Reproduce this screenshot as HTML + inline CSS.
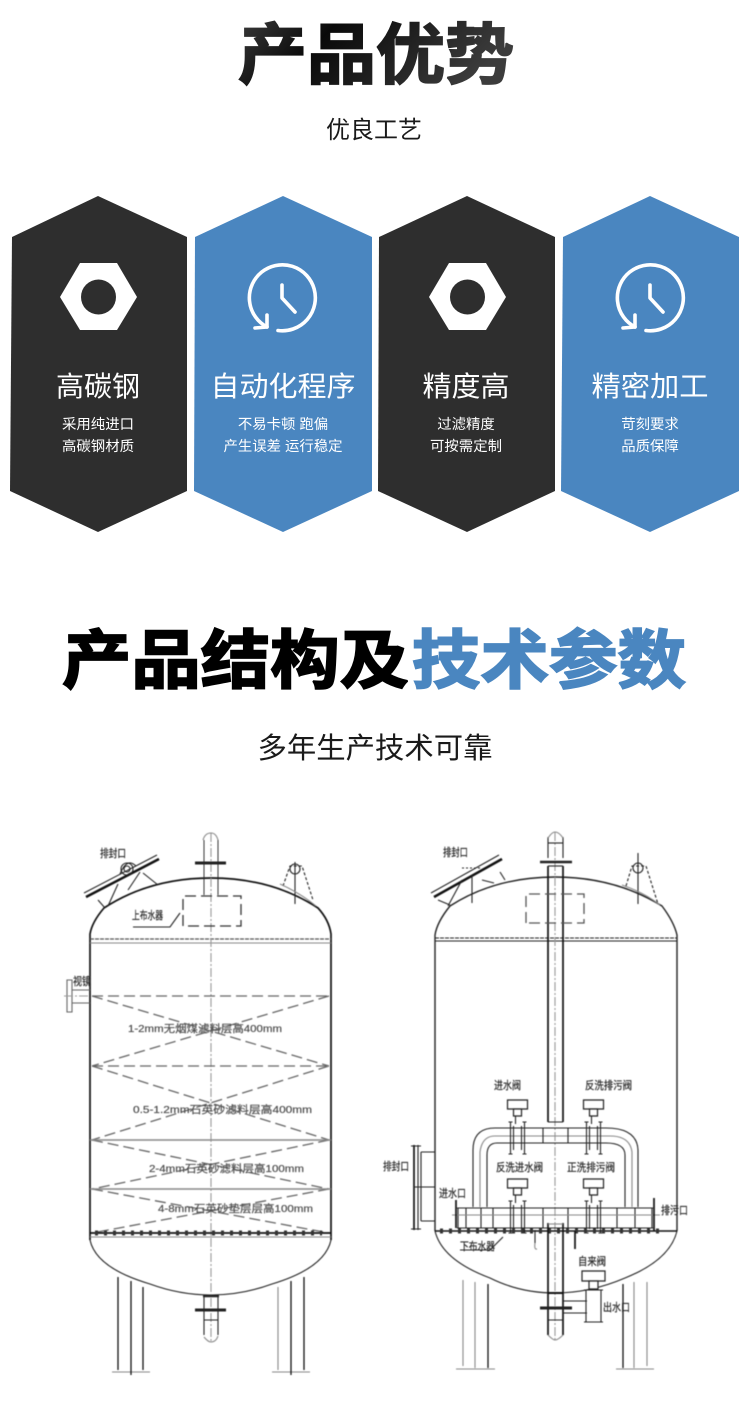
<!DOCTYPE html>
<html lang="zh">
<head>
<meta charset="utf-8">
<title>产品优势</title>
<style>
html,body{margin:0;padding:0;background:#fff;width:750px;height:1428px;overflow:hidden}
svg{display:block}
text{font-family:"Liberation Sans","Noto Sans CJK SC",sans-serif}
.t{font-weight:700;stroke-width:1.8px;stroke-linejoin:miter;stroke-miterlimit:2}
.sub{font-size:24px;fill:#1a1a1a;text-anchor:middle}
.h{font-size:28px;fill:#fff;text-anchor:middle}
.s{font-size:14.400px;fill:#fff;text-anchor:middle}
.l{font-size:10.500px;fill:#444;stroke:#666;stroke-width:.25px}
.lb{font-size:11px;fill:#222;stroke:#333;stroke-width:.25px}
.d{fill:none;stroke:#222;stroke-width:1.1}
.b{fill:none;stroke:#111;stroke-width:1.7}
.g{fill:none;stroke:#888;stroke-width:1.1}
.da{fill:none;stroke:#666;stroke-width:1.3;stroke-dasharray:11 5}
.c{fill:none;stroke:#999;stroke-width:1.1;stroke-dasharray:9 2 2 2}
.w{fill:#fff;stroke:#222;stroke-width:1.2}
.diagram{filter:blur(.45px)}
</style>
</head>
<body>
<svg width="750" height="1428" viewBox="0 0 750 1428" xmlns="http://www.w3.org/2000/svg">
<defs>
<linearGradient id="tg" x1="0" y1="0" x2="1" y2="0.25">
<stop offset="0" stop-color="#3a3a3a"/><stop offset=".35" stop-color="#0a0a0a"/><stop offset=".6" stop-color="#1c1c1c"/><stop offset="1" stop-color="#3c3c3c"/>
</linearGradient>
<g id="clock" fill="none" stroke="#fff" stroke-width="3.6" stroke-linecap="round" stroke-linejoin="round">
<path d="M-4 32.500A33 33 0 1 0 -15 29"/>
<path d="M-27 30L-15 29L-15 17"/>
<path d="M0 -13V0L13 14"/>
</g>
<g id="valve">
<path class="w" d="M-10 -6H10V3H-10Z"/><path class="w" d="M-4 3H4V10H-4Z"/><path class="d" d="M-2 10V18"/>
<path class="d" d="M-7 16V48M7 16V48M-5 16H-9M-5 48H-9M5 16H9M5 48H9M-4 20V44M4 20V44"/>
</g>
</defs>

<rect width="750" height="1428" fill="#fff"/>

<text class="t" style="font-size:66px" x="238" y="78" textLength="276" lengthAdjust="spacingAndGlyphs" fill="url(#tg)" stroke="url(#tg)">产品优势</text>
<text class="sub" x="374" y="138">优良工艺</text>

<polygon points="98,196 187,237 187,491 98,532 10,491 12,237" fill="#2e2e2e"/>
<polygon points="283,196 372,237 372,491 283,532 194,491 195,237" fill="#4a86c0"/>
<polygon points="467,196 555,237 555,491 467,532 378,491 379,237" fill="#2e2e2e"/>
<polygon points="650,196 739,237 739,491 650,532 561,491 563,237" fill="#4a86c0"/>

<polygon points="80,263 117,263 137,297 117,330 80,330 60,297" fill="#fff"/>
<circle cx="98.500" cy="297" r="17.500" fill="#2e2e2e"/>
<polygon points="449,263 486,263 506,297 486,330 449,330 429,297" fill="#fff"/>
<circle cx="467.500" cy="297" r="17.500" fill="#2e2e2e"/>
<use href="#clock" x="282" y="298"/>
<use href="#clock" x="650" y="298"/>

<text class="h" x="98" y="396" textLength="84" lengthAdjust="spacingAndGlyphs">高碳钢</text>
<text class="h" x="283" y="396" textLength="145" lengthAdjust="spacingAndGlyphs">自动化程序</text>
<text class="h" x="466" y="396" textLength="87" lengthAdjust="spacingAndGlyphs">精度高</text>
<text class="h" x="650" y="396" textLength="117" lengthAdjust="spacingAndGlyphs">精密加工</text>

<text class="s" x="98" y="429">采用纯进口</text>
<text class="s" x="98" y="451">高碳钢材质</text>
<text class="s" x="283" y="429">不易卡顿 跑偏</text>
<text class="s" x="283" y="451">产生误差 运行稳定</text>
<text class="s" x="466" y="429">过滤精度</text>
<text class="s" x="466" y="451">可按需定制</text>
<text class="s" x="650" y="429">苛刻要求</text>
<text class="s" x="650" y="451">品质保障</text>

<text class="t" style="font-size:64px" x="62" y="683" textLength="347" lengthAdjust="spacingAndGlyphs" fill="#000" stroke="#000">产品结构及</text>
<text class="t" style="font-size:64px" x="412" y="683" textLength="274" lengthAdjust="spacingAndGlyphs" fill="#4a86c0" stroke="#4a86c0">技术参数</text>
<text class="sub" x="375" y="758" style="font-size:29px" textLength="235" lengthAdjust="spacingAndGlyphs">多年生产技术可靠</text>

<!-- LEFT TANK -->
<g class="diagram">
<path class="b" d="M90 1240V934Q92 922 104 908Q150 878 211 878Q272 878 318 908Q329 920 331 934V1240"/>
<path class="d" d="M90 1240Q96 1268 150 1284Q180 1295 211 1295Q242 1295 272 1284Q325 1268 331 1240"/>
<path class="da" style="stroke-dasharray:4 1;stroke:#555" d="M90 939H331"/>
<path class="g" d="M90 943H331"/>
<path class="c" d="M211 833V1342"/>
<path class="da" d="M92 996H329M92 1066H329"/>
<path class="da" d="M92 996L329 1066M329 996L92 1066M92 1066L329 1140M329 1066L92 1140M92 1140L329 1189M329 1140L92 1189M92 1189L329 1233M329 1189L92 1233"/>
<path class="g" style="stroke-width:1.400" d="M90 1140H331M90 1189H331"/>
<path class="b" d="M90 1233H331"/>
<path d="M95 1233H322" fill="none" stroke="#333" stroke-width="5" stroke-dasharray="3 6"/>
<path class="g" d="M90 1237H331"/>

<path class="d" d="M218 840V895M204 840V895" style="stroke-width:.9"/>
<path d="M195 863H226" stroke="#222" stroke-width="3" fill="none"/>
<path class="g" d="M203 840Q205 833 211 833Q216 833 218 840"/>
<path class="da" style="stroke:#333;stroke-width:1.300" d="M183 926V896H241V926H183"/>

<path d="M86 897L159 859" stroke="#111" stroke-width="2.500" fill="none"/>
<path class="d" d="M84 893L157 855M98 900L105 908M143 873L158 885"/>
<path class="d" d="M118 884L108 906M140 872L128 890"/>
<circle class="d" cx="127" cy="869" r="6"/><circle class="d" cx="127" cy="869" r="3"/>
<path class="d" d="M120 874Q127 857 136 866"/>

<path class="d" style="stroke-dasharray:3 2" d="M283 886L290 866H302L313 900"/>
<circle class="d" cx="295" cy="869" r="5"/>
<path class="d" d="M295 862V904"/>
<path class="g" d="M280 884Q300 893 316 906"/>

<path class="d" d="M133 927H170L180 913"/>
<text class="lb" x="132" y="919" textLength="31" lengthAdjust="spacingAndGlyphs">上布水器</text>
<text class="lb" x="100" y="857" textLength="26" lengthAdjust="spacingAndGlyphs">排封口</text>
<text class="lb" x="73" y="985" textLength="18" lengthAdjust="spacingAndGlyphs">视镜</text>

<path class="d" style="stroke:#666" d="M67 980H72V1012H67ZM72 990H90M72 1003H90"/>
<path class="c" d="M64 996H90"/>

<path class="b" style="stroke-width:1.300" d="M118 1277V1370M143 1287V1370"/>
<path class="g" d="M112 1372H150M272 1372H310M278 1287V1370"/>
<path class="b" style="stroke-width:1.300" d="M131 1281V1375M291 1281V1375M304 1277V1370"/>
<path d="M203 1296H219" stroke="#222" stroke-width="2.500" fill="none"/>
<path d="M195 1310H226" stroke="#222" stroke-width="3" fill="none"/>
<path class="d" d="M218 1296V1335M204 1320H218M204 1296V1335"/>
<path class="g" d="M204 1337Q208 1342 211 1342Q216 1342 218 1336"/>

<text class="l" x="128" y="1032" textLength="154" lengthAdjust="spacingAndGlyphs">1-2mm无烟煤滤料层高400mm</text>
<text class="l" x="133" y="1113" textLength="179" lengthAdjust="spacingAndGlyphs">0.5-1.2mm石英砂滤料层高400mm</text>
<text class="l" x="149" y="1172" textLength="155" lengthAdjust="spacingAndGlyphs">2-4mm石英砂滤料层高100mm</text>
<text class="l" x="158" y="1212" textLength="155" lengthAdjust="spacingAndGlyphs">4-8mm石英砂垫层层高100mm</text>
</g>

<!-- RIGHT TANK -->
<g class="diagram">
<path class="d" style="stroke-width:1.400" d="M435 1231V935Q437 922 450 906Q495 877 555 877Q615 877 662 906Q674 922 677 935V1231"/>
<path class="d" style="stroke-dasharray:4 1" d="M435 938H677"/>
<path class="d" d="M435 941H677"/>
<path class="c" d="M555 832V1340"/>
<path class="b" d="M548 866V1122M563 866V1122"/>
<path class="d" d="M548 1122H563M548 837V858M563 837V858"/>
<path class="d" d="M548 843H563"/>
<path class="g" d="M548 838Q552 832 555 832Q559 832 563 838"/>
<path d="M540 862H572" stroke="#222" stroke-width="2.500" fill="none"/>
<path class="d" d="M548 866H563"/>
<path class="da" style="stroke:#555" d="M526 923V894H584V923H526"/>

<path d="M434 897L502 859" stroke="#111" stroke-width="2.500" fill="none"/>
<path class="d" d="M431 893L499 855M438 900L450 905M500 872L505 880"/>
<path class="d" d="M462 880L448 906M472 875V903M482 880L494 883"/>
<path class="d" style="stroke-dasharray:2 2" d="M462 868H482"/>
<path class="d" style="stroke-dasharray:3 2" d="M626 886L632 866H646L658 904"/>
<circle class="d" cx="638" cy="868" r="5"/>
<path class="d" d="M638 853V904"/>
<path class="g" d="M622 885Q645 893 660 905"/>

<path class="d" d="M435 1231Q442 1260 490 1278Q520 1293 555 1293Q590 1293 625 1278Q670 1260 677 1231"/>

<!-- piping -->
<path class="d" d="M473 1207V1150Q473 1128 495 1128H606Q637 1128 638 1150V1207"/>
<path class="d" d="M487 1207V1155Q487 1143 497 1143H606Q625 1143 625 1155V1207"/>
<path class="g" d="M480 1207V1152Q482 1136 495 1136H610Q630 1136 632 1152V1207"/>
<path class="d" d="M457 1208H653M457 1228H653M458 1208V1228M652 1208V1228"/>
<path class="d" d="M466 1208V1228M481 1208V1228M493 1208V1228M543 1208V1228M568 1208V1228M617 1208V1228M635 1208V1228M543 1128V1143M568 1128V1143"/>
<path class="g" d="M452 1215H660"/>
<path class="b" d="M456 1200V1228M654 1198V1231"/>

<use href="#valve" x="517.500" y="1106"/>
<use href="#valve" x="593.500" y="1106"/>
<use href="#valve" x="517.500" y="1185"/>
<use href="#valve" x="593.500" y="1185"/>

<path d="M435 1231H677" stroke="#111" stroke-width="1.500" fill="none"/>
<path d="M440 1231H660" stroke="#333" stroke-width="5" stroke-dasharray="3 6" fill="none"/>

<path class="b" d="M548 1223V1335M563 1223V1335"/>
<path d="M548 1293H563" stroke="#111" stroke-width="2" fill="none"/>
<path class="g" d="M548 1224H563"/>
<path d="M540 1308H572" stroke="#222" stroke-width="3" fill="none"/>
<path class="d" d="M563 1301H587M563 1313H587M548 1320H563"/>
<path class="g" d="M548 1335Q553 1340 555 1340Q558 1340 563 1335"/>
<path class="w" d="M582 1271H605V1281H582Z"/><path class="w" d="M589 1281H598V1289H589Z"/>
<path class="d" d="M586 1290V1322M601 1290V1322M584 1290H603M584 1322H603"/>

<path class="b" style="stroke-width:1.300" d="M488 1284V1368M623 1284V1368"/>
<path class="g" d="M456 1369H495M616 1369H654M463 1280V1366M647 1282V1366M475 1282V1368M634 1282V1368"/>

<path class="b" d="M414 1145V1230"/>
<path class="d" d="M418 1145V1230M411 1146H421M411 1229H421M421 1152H435M421 1221H435M421 1152V1221M414 1187H435"/>
<path class="d" d="M535 1230V1243"/>
<path class="b" d="M575 1231V1249"/>
<path class="g" d="M535 1243Q534 1250 537 1249"/>
<path class="d" d="M460 1250H490L503 1237"/>

<text class="lb" x="494" y="1089" textLength="27" lengthAdjust="spacingAndGlyphs">进水阀</text>
<text class="lb" x="585" y="1089" textLength="47" lengthAdjust="spacingAndGlyphs">反洗排污阀</text>
<text class="lb" x="496" y="1171" textLength="47" lengthAdjust="spacingAndGlyphs">反洗进水阀</text>
<text class="lb" x="567" y="1171" textLength="48" lengthAdjust="spacingAndGlyphs">正洗排污阀</text>
<text class="lb" x="439" y="1197" textLength="27" lengthAdjust="spacingAndGlyphs">进水口</text>
<text class="lb" x="661" y="1214" textLength="27" lengthAdjust="spacingAndGlyphs">排污口</text>
<text class="lb" x="460" y="1250" textLength="35" lengthAdjust="spacingAndGlyphs">下布水器</text>
<text class="lb" x="578" y="1265" textLength="28" lengthAdjust="spacingAndGlyphs">自来阀</text>
<text class="lb" x="603" y="1311" textLength="27" lengthAdjust="spacingAndGlyphs">出水口</text>
<text class="lb" x="383" y="1170" textLength="26" lengthAdjust="spacingAndGlyphs">排封口</text>
<text class="lb" x="443" y="856" textLength="25" lengthAdjust="spacingAndGlyphs">排封口</text>
</g>
</svg>
</body>
</html>
